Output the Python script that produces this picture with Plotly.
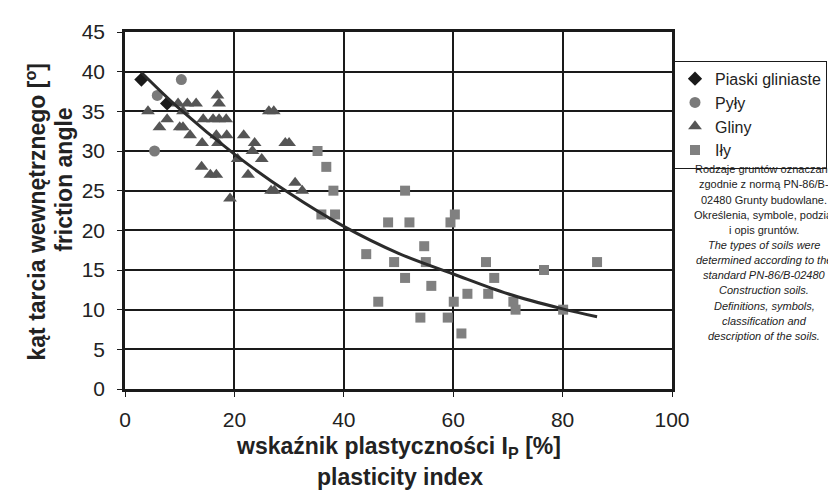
import plotly.graph_objects as go

# ---- data ----
piaski_x = [3.0, 7.7]
piaski_y = [39, 36]

pyly_x = [5.9, 10.3, 5.4]
pyly_y = [37, 39, 30]

gliny_x = [4.2, 6.3, 7.7, 9.7, 11.4, 13.0, 16.9, 17.2, 10.6,
           10.0, 10.6, 11.9, 14.3, 16.1, 17.2, 18.5, 14.1, 16.7, 17.0, 18.6,
           21.7, 23.7, 23.3, 25.0, 20.6, 22.5, 14.0, 15.6, 16.7, 19.2,
           26.3, 27.2, 29.3, 30.0, 26.7, 27.3, 31.1, 32.4]
gliny_y = [35, 33, 34, 36, 36, 36, 37, 36, 35,
           33, 33, 32, 34, 34, 34, 34, 31, 32, 31, 32,
           32, 31, 30, 29, 29, 27, 28, 27, 27, 24,
           35, 35, 31, 31, 25, 25, 26, 25]

ily_x = [35.2, 36.8, 38.1, 35.9, 38.4, 51.2, 48.1, 52.0, 54.7, 44.1,
         49.2, 55.0, 51.2, 56.0, 46.3, 54.0, 59.0, 60.1, 61.5, 62.6,
         66.0, 67.5, 66.4, 71.0, 71.4, 76.6, 80.1, 86.3, 59.5, 60.3]
ily_y = [30, 28, 25, 22, 22, 25, 21, 21, 18, 17,
         16, 16, 14, 13, 11, 9, 9, 11, 7, 12,
         16, 14, 12, 11, 10, 15, 10, 16, 21, 22]

trend_x = [3, 10, 20, 30, 40, 50, 60, 70, 80, 86.3]
trend_y = [39.9, 35.3, 29.6, 24.7, 20.5, 17.1, 14.5, 12.0, 10.1, 9.1]

x_ticks = [0, 20, 40, 60, 80, 100]
y_ticks = [0, 5, 10, 15, 20, 25, 30, 35, 40, 45]

note_lines = [
    "Rodzaje gruntów oznaczano",
    "zgodnie z normą PN-86/B-",
    "02480 Grunty budowlane.",
    "Określenia, symbole, podział",
    "i opis gruntów.",
    "<i>The types of soils were</i>",
    "<i>determined according to the</i>",
    "<i>standard PN-86/B-02480</i>",
    "<i>Construction soils.</i>",
    "<i>Definitions, symbols,</i>",
    "<i>classification and</i>",
    "<i>description of the soils.</i>",
]

# ---- layout geometry (pixels) ----
W, H = 836, 499
L, R, T, B = 117, 664, 21, 381
PW, PH = R - L, B - T


def px(xp):
    return (xp - L) / PW


def py(yp):
    return (B - yp) / PH


FONT = "Liberation Sans, Arial, sans-serif"

fig = go.Figure()
fig.add_trace(go.Scatter(x=piaski_x, y=piaski_y, mode="markers", name="Piaski gliniaste",
                         marker=dict(symbol="diamond", size=11, color="#1a1a1a")))
fig.add_trace(go.Scatter(x=pyly_x, y=pyly_y, mode="markers", name="Pyły",
                         marker=dict(symbol="circle", size=11, color="#7a7a7a")))
fig.add_trace(go.Scatter(x=gliny_x, y=gliny_y, mode="markers", name="Gliny",
                         marker=dict(symbol="triangle-up", size=12, color="#555555")))
fig.add_trace(go.Scatter(x=ily_x, y=ily_y, mode="markers", name="Iły",
                         marker=dict(symbol="square", size=10, color="#808080")))
fig.add_trace(go.Scatter(x=trend_x, y=trend_y, mode="lines", showlegend=False,
                         line=dict(color="#2b2b2b", width=3, shape="spline")))

axis_common = dict(showgrid=True, gridcolor="#1a1a1a", gridwidth=2,
                   showline=True, linecolor="#1a1a1a", linewidth=2.5, mirror=True,
                   ticks="outside", ticklen=5, tickcolor="#1a1a1a", tickwidth=1,
                   zeroline=False, tickfont=dict(family=FONT, size=21, color="#222"))

fig.update_xaxes(range=[0, 100], tickvals=x_ticks, ticklabelstandoff=5, **axis_common)
fig.update_yaxes(range=[0, 45], tickvals=y_ticks, ticklabelstandoff=8, **axis_common)

annotations = []
title_font = dict(family=FONT, size=23, color="#222")
annotations.append(dict(text="<b>wskaźnik plastyczności I<sub>P</sub> [%]</b>", x=px(390), y=py(440),
                        xref="paper", yref="paper", showarrow=False, xanchor="center", yanchor="middle",
                        font=title_font))
annotations.append(dict(text="<b>plasticity index</b>", x=px(392), y=py(470),
                        xref="paper", yref="paper", showarrow=False, xanchor="center", yanchor="middle",
                        font=title_font))
annotations.append(dict(text="<b>kąt tarcia wewnętrznego [<sup>o</sup>]</b>", x=px(28), y=py(203),
                        xref="paper", yref="paper", showarrow=False, xanchor="center", yanchor="middle",
                        textangle=-90, font=title_font))
annotations.append(dict(text="<b>friction angle</b>", x=px(56), y=py(170),
                        xref="paper", yref="paper", showarrow=False, xanchor="center", yanchor="middle",
                        textangle=-90, font=title_font))

for i, line in enumerate(note_lines):
    annotations.append(dict(text=line, x=px(756), y=py(159.5 + i * 15.27),
                            xref="paper", yref="paper", showarrow=False,
                            xanchor="center", yanchor="middle",
                            font=dict(family=FONT, size=11, color="#222")))

fig.update_layout(
    width=W, height=H,
    margin=dict(l=L, r=W - R, t=T, b=H - B, pad=0),
    paper_bgcolor="white", plot_bgcolor="white",
    showlegend=True,
    legend=dict(x=px(666), y=py(50), xanchor="left", yanchor="top",
                bordercolor="#1a1a1a", borderwidth=1, bgcolor="white",
                font=dict(family=FONT, size=16, color="#222"),
                itemwidth=30, tracegroupgap=0),
    annotations=annotations,
)

fig.write_html("out.html")
